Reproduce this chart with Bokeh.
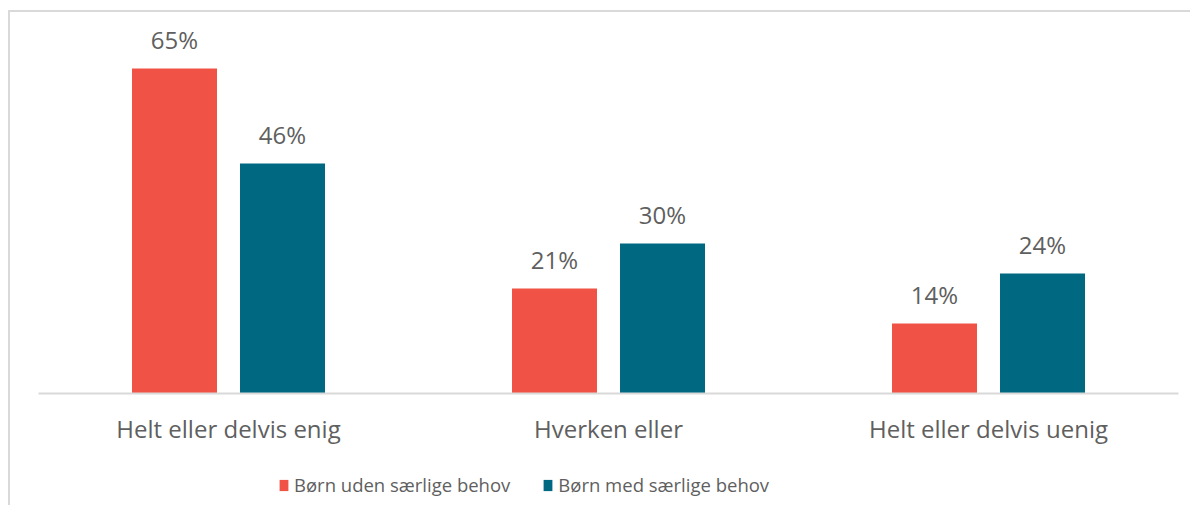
from bokeh.plotting import figure
from bokeh.layouts import column
from bokeh.models import ColumnDataSource, FactorRange, Range1d, Legend, LegendItem
from bokeh.transform import dodge
from bokeh.core.properties import value
from bokeh.embed import file_html
from bokeh.resources import INLINE

categories = ["Helt eller delvis enig", "Hverken eller", "Helt eller delvis uenig"]
series_names = ["Børn uden særlige behov", "Børn med særlige behov"]
uden = [65, 21, 14]
med = [46, 30, 24]
colors = ["#F05245", "#006880"]

src = ColumnDataSource(dict(
    cat=categories,
    uden=uden,
    med=med,
    uden_lbl=[f"{v}%" for v in uden],
    med_lbl=[f"{v}%" for v in med],
))

FONT = "Open Sans"
TXT = "#5f5f5f"
W = 1180

p = figure(
    x_range=FactorRange(*categories, range_padding=0),
    y_range=Range1d(0, 75),
    width=W, height=443,
    output_backend="svg", toolbar_location=None,
    min_border_left=28, min_border_right=12, min_border_top=6, min_border_bottom=62,
)

off = 54 / 380
bw = 85 / 380
p.vbar(x=dodge("cat", -off, range=p.x_range), top="uden", width=bw, source=src,
       fill_color=colors[0], line_color=None)
p.vbar(x=dodge("cat", off, range=p.x_range), top="med", width=bw, source=src,
       fill_color=colors[1], line_color=None)

p.text(x=dodge("cat", -off, range=p.x_range), y="uden", text="uden_lbl", source=src,
       text_font=value(FONT), text_font_size="24px", text_color=TXT,
       text_align="center", text_baseline="middle", y_offset=-29)
p.text(x=dodge("cat", off, range=p.x_range), y="med", text="med_lbl", source=src,
       text_font=value(FONT), text_font_size="24px", text_color=TXT,
       text_align="center", text_baseline="middle", y_offset=-29)

p.yaxis.visible = False
p.xaxis.axis_line_color = "#d9d9d9"
p.xaxis.axis_line_width = 2
p.xaxis.major_tick_line_color = None
p.xaxis.minor_tick_line_color = None
p.xaxis.major_label_text_font = FONT
p.xaxis.major_label_text_font_size = "24px"
p.xaxis.major_label_text_color = TXT
p.xaxis.major_label_standoff = 12
p.xgrid.grid_line_color = None
p.ygrid.grid_line_color = None
p.outline_line_color = None

# legend strip
q = figure(width=W, height=50, x_range=Range1d(0, W), y_range=Range1d(0, 50),
           output_backend="svg", toolbar_location=None,
           x_axis_location=None, y_axis_location=None,
           min_border=0, min_border_left=0, min_border_right=0,
           min_border_top=0, min_border_bottom=0)
q.xgrid.grid_line_color = None
q.ygrid.grid_line_color = None
q.outline_line_color = None
hidden = ColumnDataSource(dict(x=[-1000], top=[0]))
l1 = q.vbar(x="x", top="top", width=1, source=hidden, fill_color=colors[0], line_color=None)
l2 = q.vbar(x="x", top="top", width=1, source=hidden, fill_color=colors[1], line_color=None)

legend = Legend(
    items=[LegendItem(label=series_names[0], renderers=[l1]),
           LegendItem(label=series_names[1], renderers=[l2])],
    orientation="horizontal",
    location=(240, 8),
    label_text_font=FONT, label_text_font_size="18.5px", label_text_color=TXT,
    glyph_width=11, glyph_height=14, label_standoff=5, spacing=32,
    border_line_color=None, background_fill_alpha=0,
    padding=0, margin=0,
)
q.add_layout(legend, "center")

layout = column(p, q, spacing=0)
layout.styles = {"border-left": "2px solid #d9d9d9", "border-top": "2px solid #d9d9d9",
                 "margin-left": "8px", "margin-top": "10px"}

open("out.html", "w").write(file_html(layout, INLINE))
